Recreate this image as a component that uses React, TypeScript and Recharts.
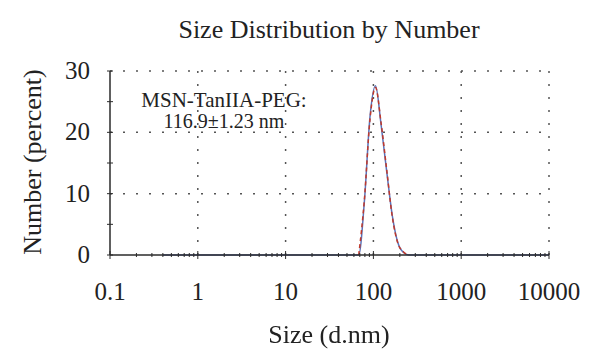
import { LineChart, Line, XAxis, YAxis, ReferenceLine } from "recharts"

// Malvern size bins (d.nm) and two overlaid number distributions (%)
const sizes = [0.4, 68.06, 78.82, 91.28, 105.7, 122.4, 141.8, 164.2, 190.1, 220.2, 255.0, 10000]
const run1 = [0, 0, 8.6, 22.4, 27.6, 21.2, 13.6, 6.4, 2.0, 0.4, 0, 0]
const run2 = [null, 0, 8.9, 22.0, 27.3, 21.5, 13.9, 6.2, 1.9, 0.5, 0, null]

const decades = [0.1, 1, 10, 100, 1000, 10000]
const decadeLabels = ["0.1", "1", "10", "100", "1000", "10000"]
const minorSteps = [2, 3, 4, 5, 6, 7, 8, 9]
const yTicks = [0, 5, 10, 15, 20, 25, 30]
const yGrid = [10, 20, 30]
const xGrid = [1, 10, 100, 1000, 10000]

const data = sizes.map((s, i) => ({ size: s, a: run1[i], b: run2[i] }))
const xTicks = [
  ...decades,
  ...decades.slice(0, -1).flatMap((d) => minorSteps.map((m) => d * m)),
].sort((p, q) => p - q)

const FONT = "'Liberation Serif', 'DejaVu Serif', serif"
const INK = "#2b2b2b"

function XTick(props: any) {
  const { x, y, payload } = props
  const idx = decades.findIndex((d) => Math.abs(d - payload.value) < 1e-9)
  const major = idx >= 0
  const h = major ? 4 : 2
  return (
    <g>
      <line x1={x} x2={x} y1={y - h} y2={y + h} stroke={INK} strokeWidth={1} />
      {major && (
        <text x={x} y={y + 45} textAnchor="middle" fontSize={25} fontFamily={FONT} fill="#222">
          {decadeLabels[idx]}
        </text>
      )}
    </g>
  )
}

function YTick(props: any) {
  const { x, y, payload } = props
  const major = payload.value % 10 === 0
  return (
    <g>
      <line x1={x - 3} x2={x + 3} y1={y} y2={y} stroke={INK} strokeWidth={1} />
      {major && (
        <text x={x - 20} y={y + 8} textAnchor="end" fontSize={25} fontFamily={FONT} fill="#222">
          {payload.value}
        </text>
      )}
    </g>
  )
}

const dotted = { stroke: "#555", strokeDasharray: "2 11", strokeWidth: 1.5 }

export default function App() {
  return (
    <div style={{ position: "fixed", left: 0, top: 0, width: 600, height: 363, background: "#fff", fontFamily: FONT }}>
      <div style={{ position: "absolute", left: 0, width: 658, top: 15, textAlign: "center", fontSize: 26, color: "#222" }}>
        Size Distribution by Number
      </div>
      <LineChart
        width={600}
        height={363}
        data={data}
        margin={{ top: 71, right: 51, bottom: 78, left: 50 }}
      >
        {yGrid.map((v) => (
          <ReferenceLine key={`y${v}`} y={v} {...dotted} />
        ))}
        {xGrid.map((v) => (
          <ReferenceLine key={`x${v}`} x={v} {...dotted} />
        ))}
        <XAxis
          dataKey="size"
          type="number"
          scale="log"
          domain={[0.1, 10000]}
          allowDataOverflow
          ticks={xTicks}
          interval={0}
          tick={<XTick />}
          tickLine={false}
          tickSize={0}
          tickMargin={0}
          height={30}
          axisLine={{ stroke: INK, strokeWidth: 1.5 }}
        />
        <YAxis
          type="number"
          domain={[0, 30]}
          ticks={yTicks}
          interval={0}
          tick={<YTick />}
          tickLine={false}
          tickSize={0}
          tickMargin={0}
          width={60}
          axisLine={{ stroke: INK, strokeWidth: 1.5 }}
        />
        <Line
          type="monotone"
          dataKey="a"
          stroke="#5b72b8"
          strokeWidth={1.5}
          dot={false}
          isAnimationActive={false}
        />
        <Line
          type="monotone"
          dataKey="b"
          stroke="#c0392b"
          strokeWidth={1.5}
          strokeDasharray="4 3"
          dot={false}
          connectNulls={false}
          isAnimationActive={false}
        />
      </LineChart>
      <div style={{ position: "absolute", left: 124, width: 200, top: 90, textAlign: "center", fontSize: 21, lineHeight: "21px", color: "#222" }}>
        MSN-TanIIA-PEG:
        <br />
        <span style={{ fontSize: 20 }}>116.9±1.23 nm</span>
      </div>
      <div
        style={{
          position: "absolute",
          left: 33,
          top: 162,
          transform: "translate(-50%, -50%) rotate(-90deg)",
          whiteSpace: "nowrap",
          fontSize: 26,
          color: "#222",
        }}
      >
        Number (percent)
      </div>
      <div style={{ position: "absolute", left: 0, width: 658, top: 320, textAlign: "center", fontSize: 26, color: "#222" }}>
        Size (d.nm)
      </div>
    </div>
  )
}
